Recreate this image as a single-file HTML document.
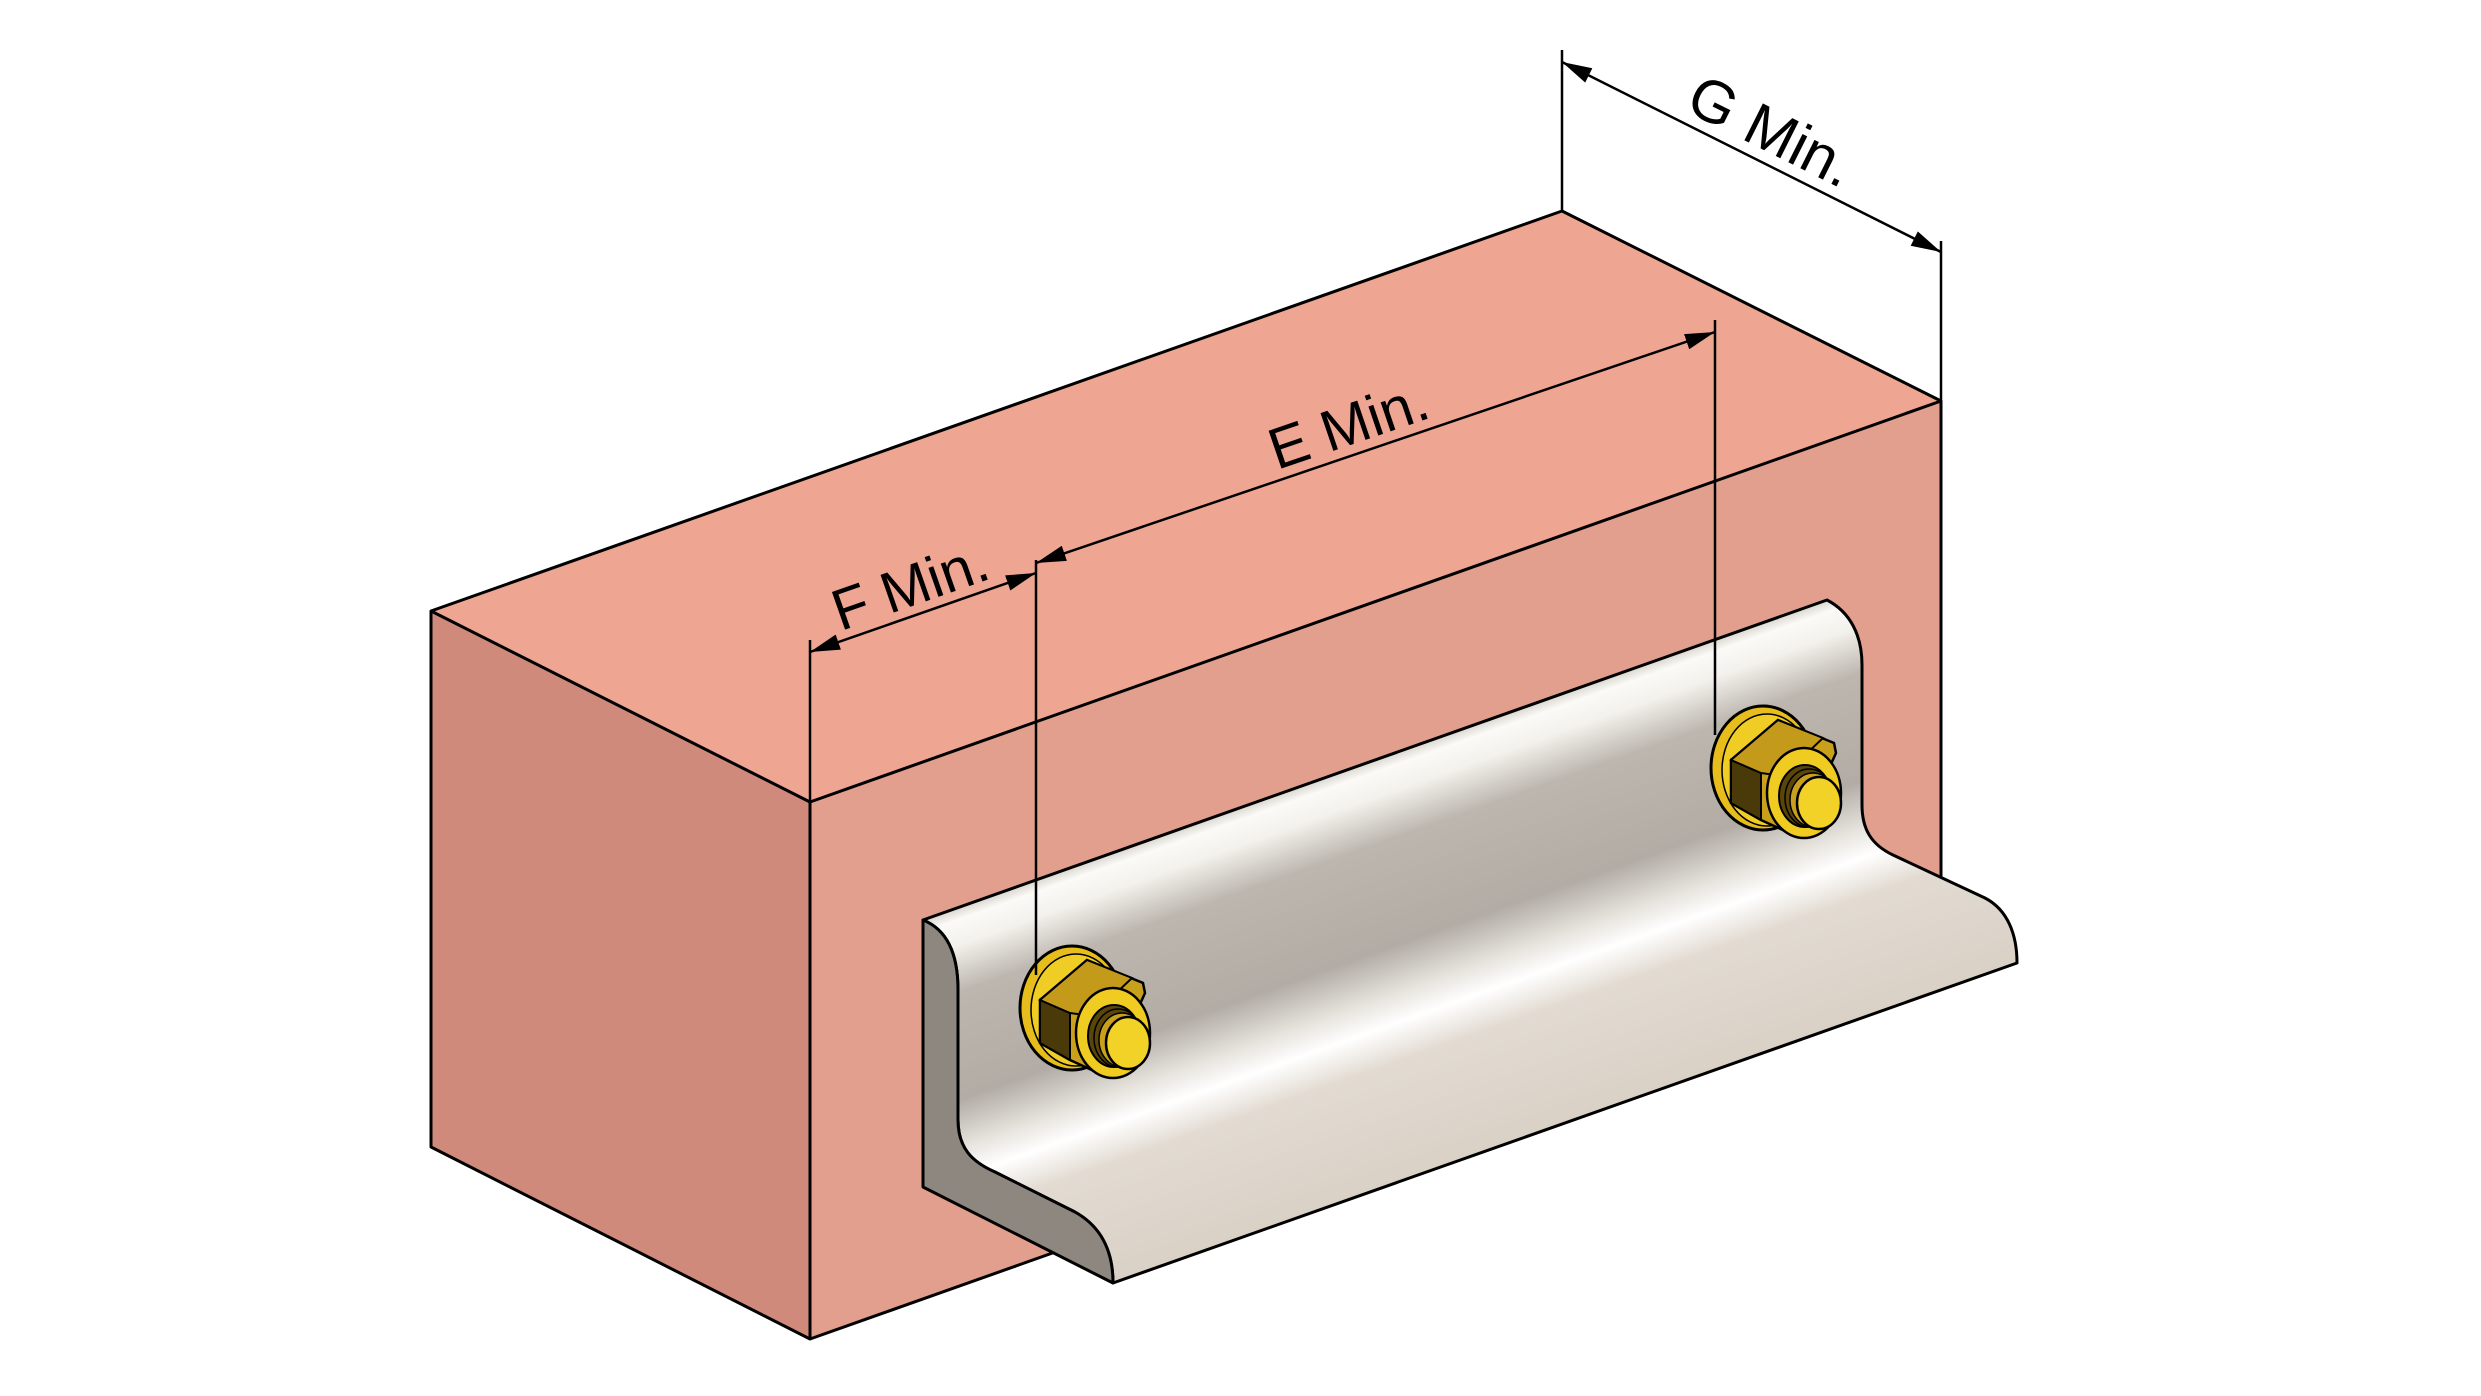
<!DOCTYPE html>
<html><head><meta charset="utf-8"><style>
html,body{margin:0;padding:0;background:#fff;}
svg{display:block;}
</style></head><body>
<svg width="2481" height="1396" viewBox="0 0 2481 1396" xmlns="http://www.w3.org/2000/svg">
<defs>
<marker id="ar" viewBox="0 0 30 16" refX="30" refY="8" markerWidth="30" markerHeight="16" markerUnits="userSpaceOnUse" orient="auto-start-reverse">
<path d="M0,0 L30,8 L0,16 Z" fill="#000"/>
</marker>
<linearGradient id="brk" gradientUnits="userSpaceOnUse" x1="0" y1="1246" x2="0" y2="1677" gradientTransform="skewY(-19.5)">
<stop offset="0" stop-color="#d8d4cc"/>
<stop offset="0.03" stop-color="#fbfaf7"/>
<stop offset="0.09" stop-color="#f3f1ec"/>
<stop offset="0.2" stop-color="#bcb6ae"/>
<stop offset="0.45" stop-color="#b2aca5"/>
<stop offset="0.56" stop-color="#e6e3dd"/>
<stop offset="0.63" stop-color="#ffffff"/>
<stop offset="0.72" stop-color="#e2dbd2"/>
<stop offset="1" stop-color="#d9d1c6"/>
</linearGradient>
<g id="nut">
<ellipse cx="0" cy="0" rx="52" ry="62" fill="#e6bd1c" stroke="#000" stroke-width="3"/>
<ellipse cx="4" cy="2" rx="45" ry="56" fill="#f0cd24" stroke="#000" stroke-width="1.5"/>
<polygon points="15,-48 71,-25 73,-15 35,69 -2,52 -32,35 -32,-8" fill="#c9a01c" stroke="#000" stroke-width="2.5"/>
<polygon points="-32,-8 -2,5 -2,52 -32,35" fill="#4a3a0a" stroke="#000" stroke-width="2"/>
<polygon points="-32,-8 15,-48 60,-30 20,8 -2,5" fill="#c49a1a" stroke="#000" stroke-width="2"/>
<ellipse cx="41" cy="25" rx="37" ry="45" fill="#f0cb22" stroke="#000" stroke-width="2.5"/>
<ellipse cx="42" cy="28" rx="26" ry="31" fill="#5a4608" stroke="#000" stroke-width="2"/>
<ellipse cx="46" cy="30" rx="24" ry="29" fill="none" stroke="#000" stroke-width="1.5"/>
<ellipse cx="50" cy="32" rx="23" ry="27" fill="#c9a01c" stroke="#000" stroke-width="1.5"/>
<ellipse cx="56" cy="35" rx="22" ry="26" fill="#f2d226" stroke="#000" stroke-width="2.5"/>
</g>
</defs>

<!-- brick -->
<polygon points="431,611 1562,211 1941,401 810,802" fill="#eea692"/>
<polygon points="431,611 810,802 810,1339 431,1147" fill="#cf8a7b"/>
<polygon points="810,802 1941,401 1941,938 810,1339" fill="#e29f8d"/>
<g fill="none" stroke="#000" stroke-width="3" stroke-linejoin="round">
<polygon points="431,611 1562,211 1941,401 1941,938 810,1339 431,1147"/>
<polyline points="431,611 810,802 1941,401"/>
<line x1="810" y1="802" x2="810" y2="1339"/>
</g>

<!-- bracket -->
<path d="M923,920 L1827,600 C1850,612 1862,635 1862,665 L1862,805 C1862,830 1872,845 1893,855 L1985,898 C2008,910 2017,935 2017,963 L1113,1283 C1113,1250 1100,1226 1075,1212 L995,1172 C972,1162 958,1148 958,1120 L958,990 C958,955 948,930 923,920 Z" fill="url(#brk)" stroke="#000" stroke-width="3" stroke-linejoin="round"/>
<path d="M923,920 C948,930 958,955 958,990 L958,1120 C958,1148 972,1162 995,1172 L1075,1212 C1100,1226 1113,1250 1113,1283 L923,1187 Z" fill="#8d8780" stroke="#000" stroke-width="3" stroke-linejoin="round"/>

<!-- nuts -->
<use href="#nut" x="1072" y="1008"/>
<use href="#nut" x="1763" y="768"/>

<!-- dimensions -->
<g stroke="#000" stroke-width="2.5" fill="none">
<line x1="1562" y1="50" x2="1562" y2="211"/>
<line x1="1941" y1="241" x2="1941" y2="401"/>
<line x1="1562" y1="62" x2="1941" y2="252" marker-start="url(#ar)" marker-end="url(#ar)"/>
<line x1="1715" y1="320" x2="1715" y2="735"/>
<line x1="1036" y1="560" x2="1036" y2="975"/>
<line x1="810" y1="640" x2="810" y2="802"/>
<line x1="1036" y1="563" x2="1715" y2="332" marker-start="url(#ar)" marker-end="url(#ar)"/>
<line x1="810" y1="652" x2="1036" y2="573" marker-start="url(#ar)" marker-end="url(#ar)"/>
</g>
<g font-family="'Liberation Sans', sans-serif" text-anchor="middle" fill="#000">
<text transform="translate(1757,160) rotate(26.6)" y="-12" font-size="60">G Min.</text>
<text transform="translate(1358,453) rotate(-18.8)" y="-10" font-size="58">E Min.</text>
<text transform="translate(920,614) rotate(-19.3)" y="-10" font-size="58">F Min.</text>
</g>
</svg>
</body></html>
